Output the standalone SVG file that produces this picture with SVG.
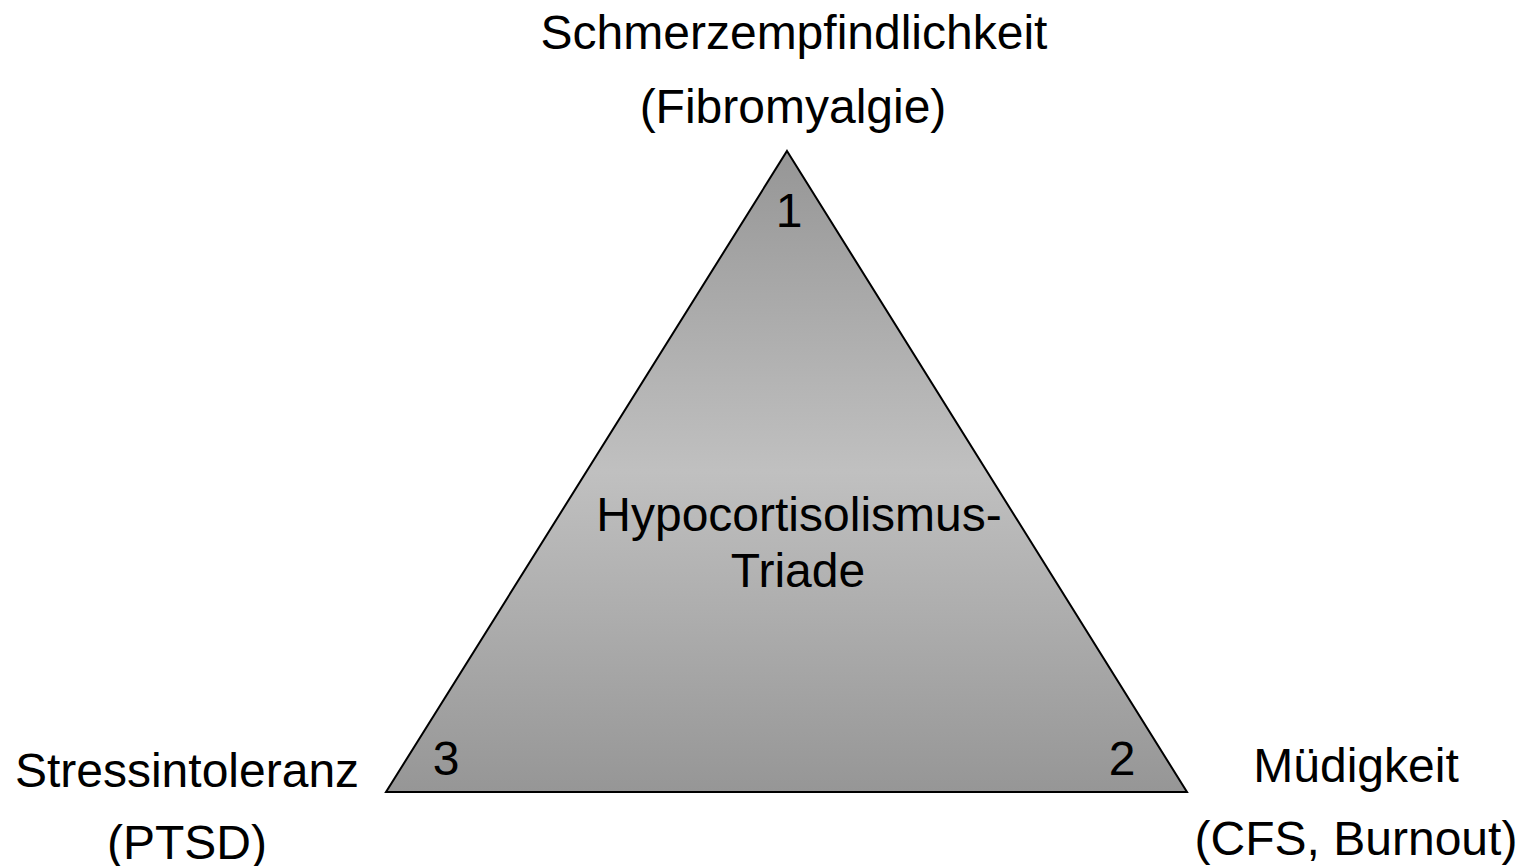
<svg xmlns="http://www.w3.org/2000/svg" width="1525" height="866" viewBox="0 0 1525 866">
<style>
text{font-family:"Liberation Sans",Arial,sans-serif;font-size:48px;fill:#000;text-anchor:middle}
</style>
<defs>
<linearGradient id="g" x1="0" y1="151" x2="0" y2="792" gradientUnits="userSpaceOnUse">
<stop offset="0" stop-color="#969696"/>
<stop offset="0.5" stop-color="#c0c0c0"/>
<stop offset="1" stop-color="#969696"/>
</linearGradient>
</defs>
<rect width="1525" height="866" fill="#fff"/>
<g id="triangle">
<polygon points="787,151 1187,792 386,792" fill="url(#g)" stroke="#000" stroke-width="2"/>
<text x="789" y="227">1</text>
<text x="1122" y="775">2</text>
<text x="446" y="775">3</text>
<text x="799" y="531">Hypocortisolismus-</text>
<text x="798" y="587">Triade</text>
</g>
<g id="top">
<text x="794" y="49">Schmerzempfindlichkeit</text>
<text x="793" y="123">(Fibromyalgie)</text>
</g>
<g id="left">
<text x="187" y="787">Stressintoleranz</text>
<text x="187" y="859">(PTSD)</text>
</g>
<g id="right">
<text x="1356" y="782">Müdigkeit</text>
<text x="1356" y="855">(CFS, Burnout)</text>
</g>
<g id="connectors"></g>
</svg>
